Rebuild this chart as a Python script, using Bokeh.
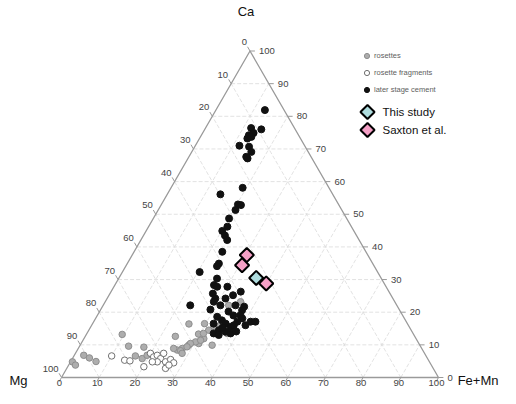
import numpy as np
from bokeh.plotting import figure
from bokeh.models import Legend, LegendItem
from bokeh.core.properties import value
from bokeh.embed import file_html
from bokeh.resources import INLINE

# ---------------- data: compositions in %  (Mg = 100 - Ca - FeMn) ----------------
ticks = list(range(0, 101, 10))
tick_labels = [str(t) for t in ticks]

cement_ca = [81.9, 76.0, 76.4, 74.9, 74.2, 73.2, 73.7, 71.0, 70.7, 69.1, 67.1, 67.6,
             58.1, 56.1, 53.0, 52.8, 51.3, 48.7, 46.2, 44.9, 43.5, 42.1, 38.5, 34.9,
             34.1, 32.3, 30.3, 27.8, 28.3, 25.7, 24.2, 24.2, 25.2, 26.3, 23.2, 22.1,
             22.1, 22.1, 20.6, 19.1, 18.1, 17.1, 18.6, 17.5, 16.5, 15.5, 14.5, 14.0,
             17.1, 17.1, 16.0, 13.5, 13.5, 16.0, 16.5, 13.0, 21.7, 20.8, 20.2, 19.0,
             15.3, 14.1, 27.8]
cement_femn = [13.0, 15.0, 12.1, 13.5, 12.6, 12.7, 13.5, 11.7, 14.4, 15.8, 15.8, 15.2,
               19.0, 14.1, 20.3, 21.2, 20.5, 20.1, 20.9, 20.2, 21.6, 22.9, 23.4, 24.3,
               24.2, 20.5, 26.1, 30.1, 26.3, 27.3, 28.7, 31.4, 32.9, 34.4, 28.8, 31.1,
               23.1, 35.1, 37.6, 37.9, 38.9, 38.1, 32.0, 33.8, 35.3, 37.1, 34.5, 36.5,
               41.6, 42.9, 40.8, 33.6, 38.1, 37.7, 32.1, 35.2, 37.6, 29.1, 34.2, 36.1,
               35.1, 39.3, 27.4]

rosette_ca = [22.1, 23.2, 16.4, 16.5, 15.6, 14.5, 13.3, 12.6, 9.9, 10.4, 9.9, 8.9,
              8.4, 11.9, 10.9, 10.4, 9.4, 8.9, 8.2, 13.2, 9.6, 9.3, 6.8, 6.0,
              4.9, 4.8, 3.8, 6.6, 5.8, 6.8, 7.4, 16.0, 13.5, 11.4, 13.5]
rosette_femn = [33.3, 35.9, 25.6, 29.7, 32.6, 31.8, 29.7, 23.9, 35.0, 31.2, 28.8, 27.6,
                26.5, 31.8, 30.1, 29.0, 28.6, 25.3, 27.5, 9.5, 13.0, 17.2, 2.5, 4.4,
                6.7, 0.5, 1.8, 16.3, 18.5, 19.3, 28.3, 34.2, 37.2, 31.2, 30.9]

frag_ca = [6.6, 5.3, 5.1, 3.3, 7.4, 6.3, 6.8, 5.8, 7.4, 4.8, 2.8, 5.5, 4.5, 4.8, 4.8, 3.8]
frag_femn = [10.0, 14.1, 15.6, 20.2, 19.9, 21.3, 22.0, 23.4, 23.4, 25.2, 26.2, 26.2,
             27.5, 23.0, 21.7, 26.6]

study_ca = [30.5]
study_femn = [36.4]
saxton_ca = [37.5, 34.4, 28.8]
saxton_femn = [30.4, 30.7, 39.9]

legend_small = ["rosettes", "rosette fragments", "later stage cement"]
legend_big = ["This study", "Saxton et al."]

H = np.sqrt(3) / 2


def to_xy(ca, femn):
    ca = np.asarray(ca, float)
    fe = np.asarray(femn, float)
    return fe + ca / 2, ca * H


# ---------------- layout (pixels) ----------------
W, HT = 500, 388
PX = 3.77          # pixels per composition unit along the base
X0, Y0 = 61, 377   # picture position of the Mg corner


def px_x(px):
    return (px - X0) / PX


def px_y(py):
    return (Y0 - py) / PX


FONT = "Liberation Sans"

p = figure(width=W, height=HT, x_range=(px_x(0), px_x(W)), y_range=(px_y(HT), px_y(0)),
           output_backend="svg", toolbar_location=None, x_axis_type=None, y_axis_type=None,
           min_border=0)
p.grid.visible = False
p.outline_line_color = None
p.background_fill_color = "white"

# ---------------- grid lines ----------------
gx, gy = [], []
for t in ticks[1:-1]:
    a = to_xy([t, t], [0, 100 - t]); gx.append(list(a[0])); gy.append(list(a[1]))
    a = to_xy([0, 100 - t], [t, t]); gx.append(list(a[0])); gy.append(list(a[1]))
    a = to_xy([0, 100 - t], [100 - t, 0]); gx.append(list(a[0])); gy.append(list(a[1]))
p.multi_line(gx, gy, line_color="#dadada", line_width=0.8, line_dash="4 2")

# triangle edges
ex, ey = to_xy([0, 0, 100, 0], [0, 100, 0, 0])
p.line(ex, ey, line_color="#9a9a9a", line_width=1.3)

# ---------------- ticks and labels ----------------
L = 1.3
tx, ty = [], []
rx, ry = to_xy(ticks, [100 - t for t in ticks])            # right edge: Ca
for x, y in zip(rx, ry):
    tx.append([x, x + L]); ty.append([y, y])
lx, ly = to_xy([100 - t for t in ticks], [0] * len(ticks))  # left edge: Mg
for x, y in zip(lx, ly):
    tx.append([x, x - 0.5 * L]); ty.append([y, y + H * L])
bx, by = to_xy([0] * len(ticks), ticks)                     # bottom: Fe+Mn
for x, y in zip(bx, by):
    tx.append([x, x - 0.5 * L]); ty.append([y, y - H * L])
p.multi_line(tx, ty, line_color="#9a9a9a", line_width=1)

lab_kw = dict(text_font=value(FONT), text_font_size="9.5px", text_color="#444444")
p.text(rx, ry, text=tick_labels, x_offset=9, text_align="left", text_baseline="middle", **lab_kw)
p.text(lx, ly, text=tick_labels, x_offset=-3, y_offset=-9, text_align="right",
       text_baseline="middle", **lab_kw)
p.text(bx, by, text=tick_labels, x_offset=-2, y_offset=5, text_align="center",
       text_baseline="middle", **lab_kw)

# corner titles
vx, vy = to_xy([100, 0, 0], [0, 0, 100])
corner_kw = dict(text_font=value(FONT), text_font_size="13px", text_color="#111111",
                 text_baseline="middle")
p.text([vx[0]], [vy[0]], text=["Ca"], x_offset=-4, y_offset=-40, text_align="center", **corner_kw)
p.text([vx[1]], [vy[1]], text=["Mg"], x_offset=-43, y_offset=3, text_align="center", **corner_kw)
p.text([vx[2]], [vy[2]], text=["Fe+Mn"], x_offset=60, y_offset=3, text_align="right", **corner_kw)

# ---------------- data points ----------------
ros_style = dict(marker="circle", fill_color="#adadad", line_color="#8e8e8e", line_width=1)
frag_style = dict(marker="circle", fill_color="white", line_color="#707070", line_width=1)
cem_style = dict(marker="circle", fill_color="#111111", line_color="#111111", line_width=1)
dia = dict(marker="square", angle=np.pi / 4, line_color="black", line_width=2)
study_fill, saxton_fill = "#aedcde", "#f5a0c6"

x, y = to_xy(rosette_ca, rosette_femn)
r_ros = p.scatter(x, y, size=6.5, **ros_style)
x, y = to_xy(frag_ca, frag_femn)
r_frag = p.scatter(x, y, size=6.5, **frag_style)
x, y = to_xy(cement_ca, cement_femn)
r_cem = p.scatter(x, y, size=7, **cem_style)
x, y = to_xy(study_ca, study_femn)
p.scatter(x, y, size=10, fill_color=study_fill, **dia)
x, y = to_xy(saxton_ca, saxton_femn)
p.scatter(x, y, size=10, fill_color=saxton_fill, **dia)

# ---------------- legends ----------------
leg1 = Legend(items=[LegendItem(label=legend_small[0], renderers=[r_ros]),
                     LegendItem(label=legend_small[1], renderers=[r_frag]),
                     LegendItem(label=legend_small[2], renderers=[r_cem])],
              location=(360, 292), glyph_height=13, glyph_width=13, spacing=4,
              label_height=13, padding=0, margin=0, label_standoff=1,
              label_text_font=FONT, label_text_font_size="7.5px", label_text_color="#5e5e5e",
              background_fill_alpha=0, border_line_color=None)
p.add_layout(leg1)

# legend for the diamond symbols (rotated squares), placed in pixel layout units
key_px_x, key_text_px_x = 367, 382
key_px_y = [111.5, 129.5]
p.scatter([px_x(key_px_x)] * 2, [px_y(v) for v in key_px_y], size=10,
          fill_color=[study_fill, saxton_fill], **dia)
p.text([px_x(key_text_px_x)] * 2, [px_y(v) for v in key_px_y], text=legend_big,
       text_font=value(FONT), text_font_size="11.5px", text_color="#111111",
       text_align="left", text_baseline="middle")

open("out.html", "w").write(file_html(p, INLINE))
